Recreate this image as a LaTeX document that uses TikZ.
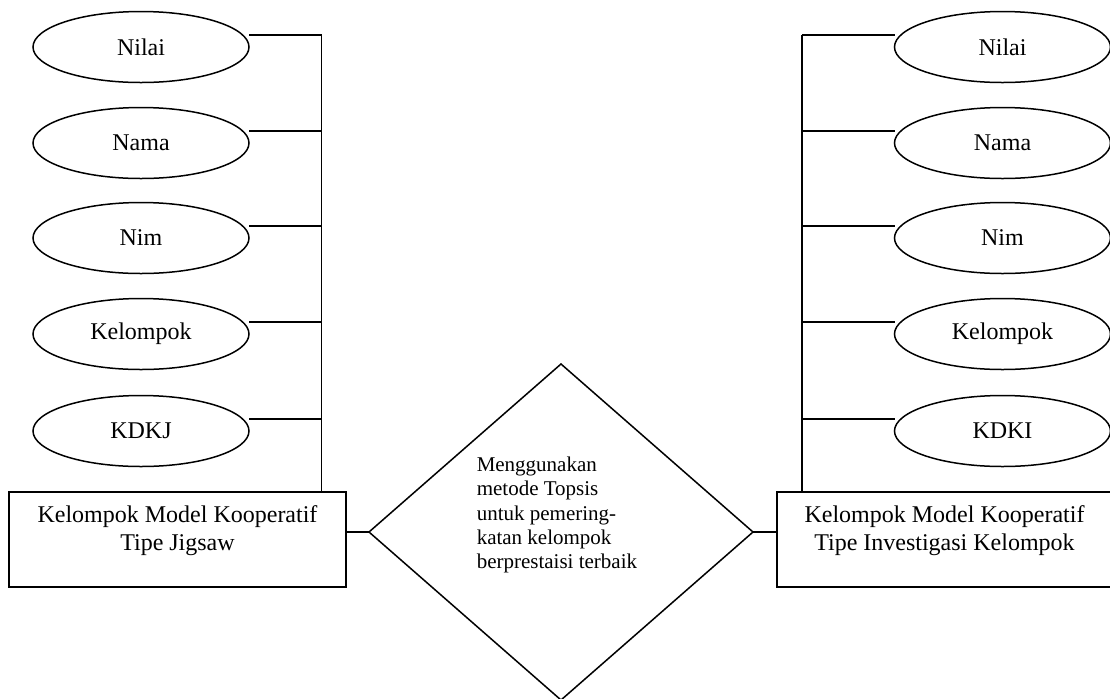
\documentclass[tikz,border=0pt]{standalone}
\usepackage{fontspec}
\setmainfont{Liberation Serif}
\usetikzlibrary{shapes.geometric}
\begin{document}
\begin{tikzpicture}[x=0.5pt,y=-0.5pt,line width=0.75pt,
  attr/.style={draw,ellipse,minimum width=108pt,minimum height=35.5pt,inner sep=0pt,outer sep=0pt,font=\fontsize{12}{14}\selectfont},
  entbox/.style={draw,rectangle,minimum height=47.5pt,inner sep=0pt,outer sep=0pt},
  enttext/.style={align=center,inner sep=0pt,font=\fontsize{12}{14}\selectfont},
  relbox/.style={draw,diamond,minimum width=192pt,minimum height=168pt,inner sep=0pt,outer sep=0pt},
  reltext/.style={align=left,inner sep=0pt,font=\fontsize{10.5}{12.15}\selectfont}]
\useasboundingbox (0,0) rectangle (1110,698);
% left attributes
\node[attr] (nilaiL) at (141,47) {Nilai};
\node[attr] (namaL) at (141,143) {Nama};
\node[attr] (nimL) at (141,238) {Nim};
\node[attr] (kelL) at (141,334) {Kelompok};
\node[attr] (kdkj) at (141,431) {KDKJ};
% right attributes
\node[attr] (nilaiR) at (1002.5,47) {Nilai};
\node[attr] (namaR) at (1002.5,143) {Nama};
\node[attr] (nimR) at (1002.5,238) {Nim};
\node[attr] (kelR) at (1002.5,334) {Kelompok};
\node[attr] (kdki) at (1002.5,431) {KDKI};
% entities
\node[entbox,minimum width=168.5pt] (jig) at (177.5,539.5) {};
\node[enttext] (jigtext) at (177.5,531) {Kelompok Model Kooperatif\\Tipe Jigsaw};
\node[entbox,minimum width=167.5pt] (inv) at (944.5,539.5) {};
\node[enttext] (invtext) at (944.5,531) {Kelompok Model Kooperatif\\Tipe Investigasi Kelompok};
% relationship
\node[relbox] (dia) at (561,532) {};
\node[reltext,anchor=west] (diatext) at (476,515) {Menggunakan\\metode Topsis\\untuk pemering-\\katan kelompok\\berprestaisi terbaik};
% connector tops
\coordinate (lt) at (321.5,35);
\coordinate (rt) at (802,35);
\draw (lt) -- (lt |- jig.north);
\draw (rt) -- (rt |- inv.north);
\foreach \n in {nilaiL,namaL,nimL,kelL,kdkj}
  \draw ([yshift=6pt]\n.east) -| (lt);
\foreach \n in {nilaiR,namaR,nimR,kelR,kdki}
  \draw ([yshift=6pt]\n.west) -| (rt);
\draw (dia.west) -- (dia.west -| jig.east);
\draw (dia.east) -- (dia.east -| inv.west);
\end{tikzpicture}
\end{document}
